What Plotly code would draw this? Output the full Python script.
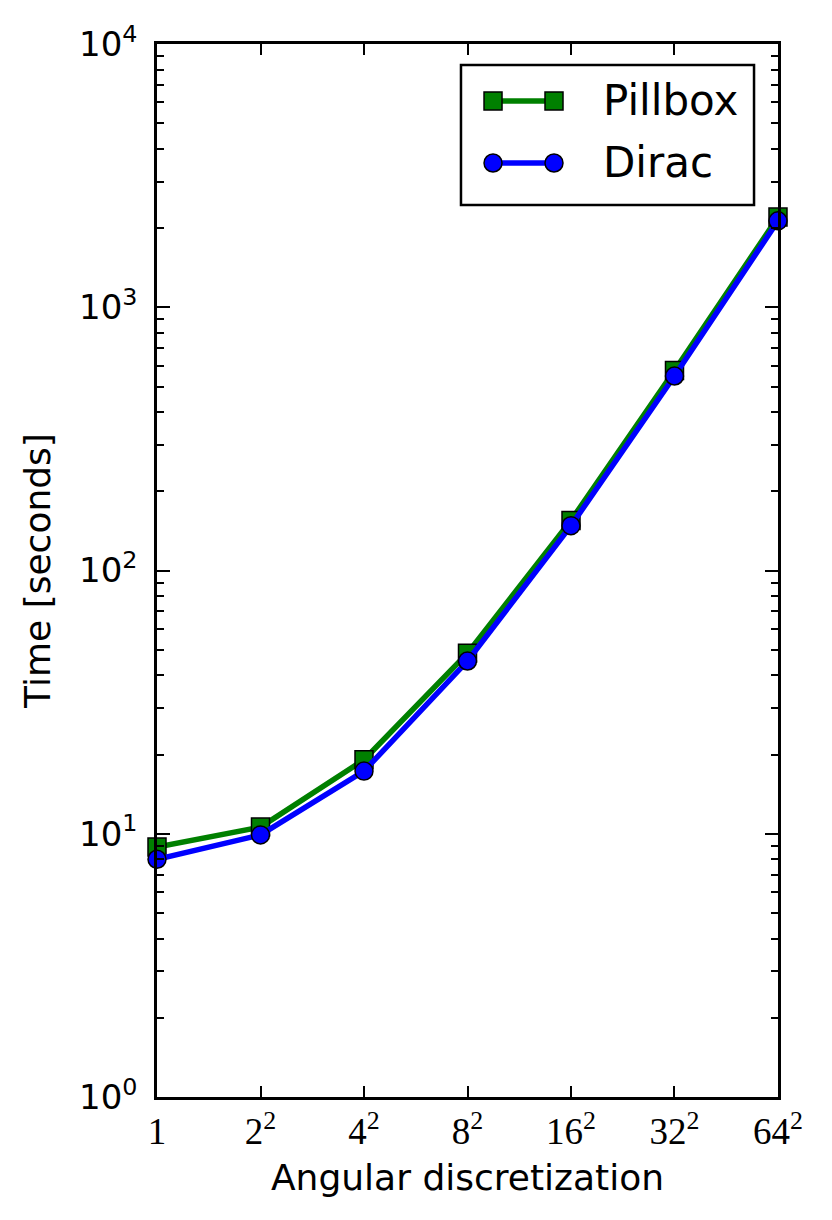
import plotly.graph_objects as go

# angular discretization (number of directions) and run time in seconds
angles = [1, 4, 16, 64, 256, 1024, 4096]
angle_labels = ["1", "2<sup>2</sup>", "4<sup>2</sup>", "8<sup>2</sup>",
                "16<sup>2</sup>", "32<sup>2</sup>", "64<sup>2</sup>"]
pillbox_time = [8.9, 10.6, 19.1, 48.5, 155, 575, 2200]
dirac_time = [8.0, 9.9, 17.3, 45.3, 148, 548, 2130]

series = [
    ("Pillbox", pillbox_time, "#008000", "square"),
    ("Dirac", dirac_time, "#0000ff", "circle"),
]

fig = go.Figure()
for name, vals, color, symbol in series:
    fig.add_trace(go.Scatter(
        x=angles, y=vals, name=name, mode="lines+markers",
        line=dict(color=color, width=5.5),
        marker=dict(symbol=symbol, size=18, color=color,
                    line=dict(color="black", width=1.5)),
        cliponaxis=False,
    ))

# matplotlib-style legend box drawn in paper coordinates
fig.add_shape(type="rect", xref="paper", yref="paper",
              x0=0.4895, x1=0.9614, y0=0.8471, y1=0.9801,
              line=dict(color="black", width=2.5), fillcolor="white", layer="above")
rows = [0.9459, 0.8870]
for (name, vals, color, symbol), ry in zip(series, rows):
    fig.add_shape(type="line", xref="paper", yref="paper",
                  x0=0.5411, x1=0.6393, y0=ry, y1=ry,
                  line=dict(color=color, width=5.5), layer="above")
    for mx in (0.5411, 0.6393):
        fig.add_shape(type="rect" if symbol == "square" else "circle",
                      xref="paper", yref="paper",
                      xsizemode="pixel", ysizemode="pixel",
                      xanchor=mx, yanchor=ry, x0=-9, x1=9, y0=-9, y1=9,
                      fillcolor=color, line=dict(color="black", width=1.5),
                      layer="above")
    fig.add_annotation(text=name, xref="paper", yref="paper",
                       x=0.7150, y=ry, xanchor="left", yanchor="middle",
                       showarrow=False, font=dict(size=42, color="black"))

fig.update_layout(
    width=824, height=1212,
    margin=dict(l=149, r=54, t=36, b=123),
    plot_bgcolor="white", paper_bgcolor="white",
    font=dict(family="DejaVu Sans", size=34, color="black"),
    showlegend=False,
)

fig.update_xaxes(
    type="log", range=[0, 3.6124],
    tickvals=angles, ticktext=angle_labels,
    tickfont=dict(family="Liberation Serif", size=37),
    ticks="inside", ticklen=11, tickwidth=1.5, tickcolor="black",
    showline=True, linewidth=2.5, linecolor="black", mirror="ticks",
    showgrid=False, zeroline=False,
    title=dict(text="Angular discretization", font=dict(size=36), standoff=14),
)
fig.update_yaxes(
    type="log", range=[0, 4],
    tickvals=[1, 10, 100, 1000, 10000],
    ticktext=["10<sup>0</sup>", "10<sup>1</sup>", "10<sup>2</sup>",
              "10<sup>3</sup>", "10<sup>4</sup>"],
    tickfont=dict(size=34),
    ticks="inside", ticklen=13, tickwidth=1.5, tickcolor="black",
    ticklabelstandoff=10,
    minor=dict(ticks="inside", ticklen=7, tickwidth=1.5, tickcolor="black",
               dtick="D1", showgrid=False),
    showline=True, linewidth=2.5, linecolor="black", mirror="ticks",
    showgrid=False, zeroline=False,
    title=dict(text="Time [seconds]", font=dict(size=36), standoff=18),
)

fig.write_html("out.html")
